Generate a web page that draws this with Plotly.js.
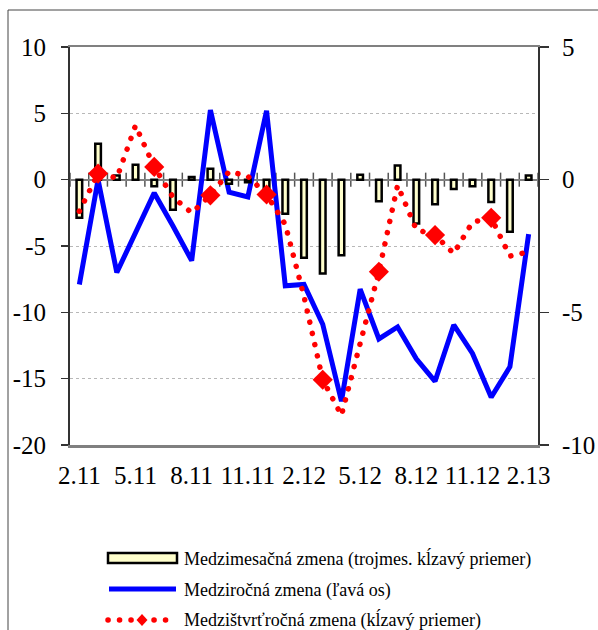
<!DOCTYPE html>
<html><head><meta charset="utf-8">
<script src="https://cdn.plot.ly/plotly-3.0.1.min.js"></script>
<style>body{margin:0;padding:0;background:#fff}</style>
</head><body><div id="chart" style="width:598px;height:630px"></div>
<script>
// ---- data ----
const months = ['2.11','3.11','4.11','5.11','6.11','7.11','8.11','9.11','10.11','11.11','12.11',
  '1.12','2.12','3.12','4.12','5.12','6.12','7.12','8.12','9.12','10.12','11.12','12.12','1.13','2.13'];
const tickLabels = ['2.11','5.11','8.11','11.11','2.12','5.12','8.12','11.12','2.13'];
const leftTicks = [-20, -15, -10, -5, 0, 5, 10];
const rightTicks = [-10, -5, 0, 5];
// month-on-month change (3-month moving average), right axis
const momChange = [-1.44, 1.35, 0.16, 0.56, -0.25, -1.13, 0.1, 0.41, -0.15, -0.1, -0.45, -1.28,
  -2.94, -3.54, -2.85, 0.19, -0.81, 0.53, -1.65, -0.93, -0.35, -0.25, -0.84, -1.96, 0.16];
// year-on-year change, left axis
const yoyChange = [-7.9, 0.0, -7.0, -4.0, -1.0, -3.5, -6.1, 5.25, -0.95, -1.3, 5.2, -8.0,
  -7.9, -10.9, -16.7, -8.25, -12.0, -11.1, -13.5, -15.2, -10.95, -13.1, -16.4, -14.1, -4.1];
// quarter-on-quarter change (moving average), right axis
const qoqChange = [-1.19, 0.23, 0.06, 2.04, 0.48, -0.66, -1.25, -0.59, 0.31, 0.13, -0.56, -1.69,
  -4.4, -7.54, -8.88, -6.15, -3.47, -0.21, -1.88, -2.09, -2.78, -1.6, -1.44, -2.88, -2.72];
const quarterMonths = ['3.11','6.11','9.11','12.11','3.12','6.12','9.12','12.12'];
const legendLabels = ['Medzimesačná zmena (trojmes. kĺzavý priemer)',
  'Medziročná zmena (ľavá os)', 'Medzištvrťročná zmena (kĺzavý priemer)'];

// ---- layout helpers ----
const W = 598, H = 630, M = {l: 70, r: 60, t: 47, b: 185};
const pw = W - M.l - M.r, ph = H - M.t - M.b;
const px = x => (x - M.l) / pw;
const py = y => (H - M.b - y) / ph;
const FONT = "'Liberation Serif', 'Times New Roman', serif";

const qoqMarkers = quarterMonths.map(m => qoqChange[months.indexOf(m)]);

const traces = [
  {type: 'bar', x: months, y: momChange, yaxis: 'y2', showlegend: false,
   marker: {color: '#FFFFCC', line: {color: '#000', width: 2.5}}, hoverinfo: 'skip'},
  {type: 'scatter', mode: 'lines', x: months, y: yoyChange, yaxis: 'y', showlegend: false,
   line: {color: '#0000FF', width: 5}},
  {type: 'scatter', mode: 'lines', x: months, y: qoqChange, yaxis: 'y2', showlegend: false,
   line: {color: '#FF0000', width: 5.5, dash: 'dot'}},
  {type: 'scatter', mode: 'markers', x: quarterMonths, y: qoqMarkers, yaxis: 'y2', showlegend: false,
   marker: {symbol: 'diamond', size: 15.5, color: '#FF0000'}}
];

const shapes = [];
// category boundary ticks on the zero line
for (let k = 0; k <= months.length; k++) {
  shapes.push({type: 'line', xref: 'x', yref: 'y', x0: k - 0.5, x1: k - 0.5, y0: -0.53, y1: 0.53,
    line: {color: '#555', width: 1.5}, layer: 'below'});
}
// outer frame
shapes.push({type: 'rect', xref: 'paper', yref: 'paper', x0: px(8), x1: px(640), y0: py(10), y1: py(700),
  line: {color: '#444', width: 1}, fillcolor: 'rgba(0,0,0,0)'});
// legend symbols
shapes.push({type: 'rect', xref: 'paper', yref: 'paper', x0: px(108), x1: px(177), y0: py(553), y1: py(563),
  line: {color: '#000', width: 2.5}, fillcolor: '#FFFFCC'});
shapes.push({type: 'line', xref: 'paper', yref: 'paper', x0: px(109), x1: px(176), y0: py(589), y1: py(589),
  line: {color: '#0000FF', width: 5}});
shapes.push({type: 'line', xref: 'paper', yref: 'paper', x0: px(108), x1: px(176), y0: py(620), y1: py(620),
  line: {color: '#FF0000', width: 5.5, dash: 'dot'}});
shapes.push({type: 'path', xref: 'paper', yref: 'paper',
  path: `M${px(136.5)},${py(620)} L${px(142)},${py(614)} L${px(147.5)},${py(620)} L${px(142)},${py(626)} Z`,
  line: {width: 0}, fillcolor: '#FF0000'});

const legendRows = [559, 590, 620];
const annotations = legendLabels.map((t, i) => ({
  text: t, xref: 'paper', yref: 'paper', x: px(182), y: py(legendRows[i]),
  xanchor: 'left', yanchor: 'middle', showarrow: false,
  font: {family: FONT, size: 18, color: '#000'}
}));

const layout = {
  width: W, height: H, margin: M, paper_bgcolor: '#fff', plot_bgcolor: '#fff',
  showlegend: false, bargap: 0.7,
  font: {family: FONT, size: 25, color: '#000'},
  xaxis: {type: 'category', categoryorder: 'array', categoryarray: months,
    range: [-0.5, months.length - 0.5], autorange: false,
    tickmode: 'array', tickvals: tickLabels, ticktext: tickLabels, ticks: '',
    showline: true, linecolor: '#808080', linewidth: 2.5, mirror: true, showgrid: false,
    tickfont: {family: FONT, size: 25}, ticklabelstandoff: 6},
  yaxis: {range: [-20, 10], tickmode: 'array', tickvals: leftTicks, ticktext: leftTicks.map(String),
    ticks: 'outside', ticklen: 7, tickwidth: 1.5,
    tickcolor: '#333', showline: true, linecolor: '#333', linewidth: 2,
    showgrid: true, gridcolor: '#b8b8b8', griddash: 'dot', gridwidth: 1,
    zeroline: true, zerolinecolor: '#808080', zerolinewidth: 2,
    tickfont: {family: FONT, size: 25}, ticklabelstandoff: 10},
  yaxis3: {range: [-20, 10], tickmode: 'array', tickvals: leftTicks, overlaying: 'y', side: 'left', anchor: 'x',
    ticks: 'inside', ticklen: 7, tickwidth: 1.5, tickcolor: '#333',
    showticklabels: false, showgrid: false, zeroline: false, showline: false},
  yaxis2: {range: [-10, 5], tickmode: 'array', tickvals: rightTicks, ticktext: rightTicks.map(String),
    overlaying: 'y', side: 'right', anchor: 'x',
    ticks: 'outside', ticklen: 9, tickwidth: 1.5, tickcolor: '#333',
    showline: true, linecolor: '#333', linewidth: 2, showgrid: false, zeroline: false,
    tickfont: {family: FONT, size: 25}, ticklabelstandoff: 8},
  shapes: shapes, annotations: annotations
};

Plotly.newPlot('chart', traces, layout, {displayModeBar: false, staticPlot: true}).then(gd => {
  const red = ['rgb(255, 0, 0)', '#FF0000', '#ff0000'];
  gd.querySelectorAll('path').forEach(p => {
    const s = p.style.stroke;
    if (red.includes(s) && p.style.strokeDasharray) {
      p.style.strokeLinecap = 'round';
      p.style.strokeDasharray = '0.1px,11.4px';
    }
  });
});
</script>
</body></html>
